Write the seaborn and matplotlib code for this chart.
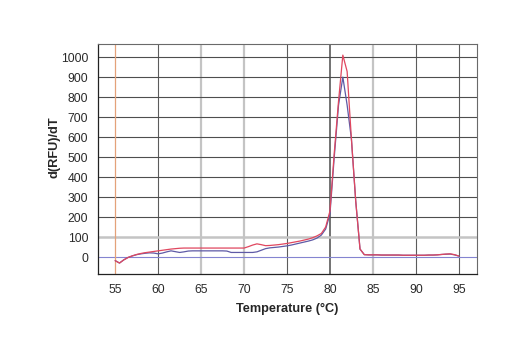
import matplotlib
matplotlib.use("Agg")
import matplotlib.pyplot as plt
from matplotlib.ticker import MultipleLocator
import numpy as np
import pandas as pd
import seaborn as sns

# Melt-curve derivative, two wells, sampled every 0.5 °C
temperature = [55.0, 55.5, 56.0, 56.5, 57.0, 57.5, 58.0, 58.5, 59.0, 59.5,
               60.0, 60.5, 61.0, 61.5, 62.0, 62.5, 63.0, 63.5, 64.0, 64.5,
               65.0, 65.5, 66.0, 66.5, 67.0, 67.5, 68.0, 68.5, 69.0, 69.5,
               70.0, 70.5, 71.0, 71.5, 72.0, 72.5, 73.0, 73.5, 74.0, 74.5,
               75.0, 75.5, 76.0, 76.5, 77.0, 77.5, 78.0, 78.5, 79.0, 79.5,
               80.0, 80.5, 81.0, 81.5, 82.0, 82.5, 83.0, 83.5, 84.0, 84.5,
               85.0, 85.5, 86.0, 86.5, 87.0, 87.5, 88.0, 88.5, 89.0, 89.5,
               90.0, 90.5, 91.0, 91.5, 92.0, 92.5, 93.0, 93.5, 94.0, 94.5,
               95.0]

well_red = [-18, -30, -14, -2, 6, 13, 18, 22, 25, 28,
            31, 34, 37, 40, 42, 44, 45, 45, 45, 45,
            45, 45, 45, 45, 45, 45, 45, 45, 45, 45,
            45, 52, 60, 66, 62, 57, 58, 60, 62, 65,
            68, 72, 76, 80, 85, 90, 97, 106, 118, 150,
            230, 520, 780, 1010, 928, 590, 280, 40, 12, 11,
            11, 11, 10, 10, 10, 10, 10, 9, 9, 9,
            9, 9, 9, 10, 10, 11, 13, 15, 16, 12,
            5]

well_blue = [-18, -30, -14, -2, 6, 12, 16, 19, 21, 20,
             16, 20, 26, 31, 27, 23, 26, 30, 31, 31,
             31, 31, 31, 31, 31, 31, 30, 23, 23, 23,
             23, 23, 23, 26, 34, 42, 46, 48, 50, 53,
             56, 60, 65, 70, 75, 80, 86, 95, 110, 140,
             215, 500, 760, 900, 760, 590, 280, 40, 12, 11,
             11, 11, 10, 10, 10, 10, 10, 9, 9, 9,
             9, 9, 9, 10, 10, 11, 13, 14, 15, 11,
             5]

x_ticks = [55, 60, 65, 70, 75, 80, 85, 90, 95]
y_ticks = [0, 100, 200, 300, 400, 500, 600, 700, 800, 900, 1000]

df = pd.DataFrame({
    "Temperature": temperature * 2,
    "dRFU": well_red + well_blue,
    "well": ["A"] * len(temperature) + ["B"] * len(temperature),
})

sns.set_style("white")
plt.rcParams["font.family"] = ["Liberation Sans", "DejaVu Sans"]

fig = plt.figure(figsize=(5.2, 3.5), dpi=100)
ax = fig.add_axes([0.1885, 0.217, 0.7285, 0.657])

ax.set_xlim(53.0, 97.1)
ax.set_ylim(-85, 1065)

# grid lines
light_x = {65, 70, 85}
for xv in x_ticks[1:]:
    if xv in light_x:
        ax.axvline(xv, color="#c4c4c4", lw=1.6, zorder=1)
    elif xv == 80:
        ax.axvline(xv, color="#5a5a5a", lw=1.2, zorder=1)
    else:
        ax.axvline(xv, color="#5c5c5c", lw=0.8, zorder=1)
for yv in y_ticks[1:]:
    if yv == 100:
        ax.axhline(yv, color="#c4c4c4", lw=1.8, zorder=1)
    else:
        ax.axhline(yv, color="#4e4e4e", lw=0.8, zorder=1)
ax.axhline(0, color="#8484d0", lw=0.8, zorder=1)
ax.axvline(55, color="#e4a27a", lw=0.9, zorder=1)

sns.lineplot(data=df, x="Temperature", y="dRFU", hue="well",
             palette={"A": "#e0475f", "B": "#5e5aa6"}, hue_order=["B", "A"],
             lw=0.9, legend=False, ax=ax, zorder=3)

ax.set_xticks(x_ticks)
ax.set_yticks(y_ticks)
ax.xaxis.set_minor_locator(MultipleLocator(1))
ax.yaxis.set_minor_locator(MultipleLocator(20))
ax.tick_params(axis="both", which="major", direction="inout", length=6,
               width=0.8, color="#333333", labelsize=8.8, labelcolor="#2a2a2a",
               pad=4)
ax.tick_params(axis="both", which="minor", direction="in", length=3,
               width=0.7, color="#333333")

for side in ["top", "right"]:
    ax.spines[side].set_color("#6a6a6a")
    ax.spines[side].set_linewidth(0.8)
for side in ["left", "bottom"]:
    ax.spines[side].set_color("#222222")
    ax.spines[side].set_linewidth(0.9)

ax.set_xlabel("Temperature (°C)", fontsize=9.2, fontweight="bold", labelpad=5)
ax.set_ylabel("d(RFU)/dT", fontsize=9.2, fontweight="bold")
ax.yaxis.set_label_coords(-0.1, 0.55)

fig.savefig("out.png", dpi=100)
